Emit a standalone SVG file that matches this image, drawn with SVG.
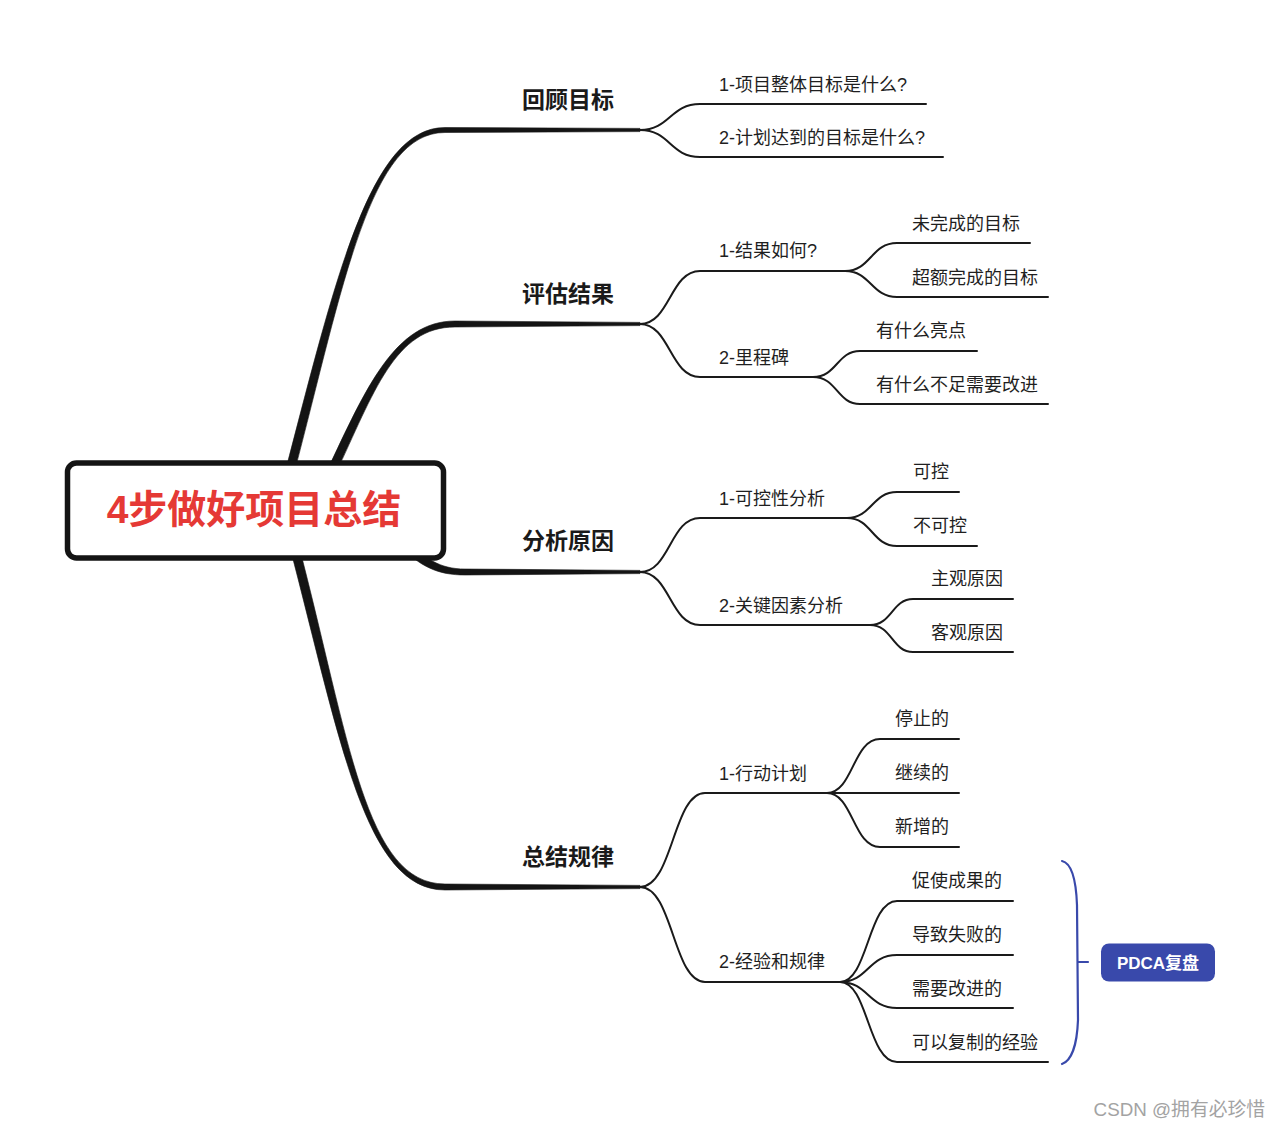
<svg xmlns="http://www.w3.org/2000/svg" width="1280" height="1129" viewBox="0 0 1280 1129">
<style>
.thin{fill:none;stroke:#1a1a1a;stroke-width:2;stroke-linecap:round}
.main{fill:#141414;stroke:#141414;stroke-width:0.6;stroke-linejoin:round}
.t{font-family:"Liberation Sans","Noto Sans CJK SC",sans-serif;font-size:18px;fill:#1f1f1f}
.b{font-family:"Noto Sans CJK SC",sans-serif;font-size:23px;font-weight:bold;fill:#1a1a1a}
.brace{fill:none;stroke:#3949ab;stroke-width:2.2;stroke-linecap:round}
</style>
<rect width="1280" height="1129" fill="#ffffff"/>
<g id="connectors">
  <path class="main" d="M284.65,473.86 C335.65,278.86 370,127.5 445,127.5 L640,128.4 L640,131.6 L445,132.5 C370,132.5 344.35,281.14 293.35,476.14 Z"/>
  <path class="main" d="M326.93,471.09 C365.93,388.09 395,321 455,321 L640,322.4 L640,325.6 L455,327 C395,327 374.07,391.91 335.07,474.91 Z"/>
  <path class="main" d="M403,537 C425,559 440,569 465,569 L640,570.4 L640,573.6 L465,575 C438,575 420,567 397,543 Z"/>
  <path class="main" d="M298.35,543.86 C349.35,738.86 365,884 445,884 L640,885.4 L640,888.6 L445,890 C365,890 340.65,741.14 289.65,546.14 Z"/>
  <path class="thin" d="M640,130 C670,130 670,104 700,104 L926,104 M640,130 C670,130 670,157 700,157 L943,157"/>
  <path class="thin" d="M640,324 C670,324 670,271 700,271 L845,271 M640,324 C670,324 670,377 700,377 L813,377 M845,271 C871,271 871,243 897,243 L1030,243 M845,271 C871,271 871,297 897,297 L1048,297 M813,377 C837,377 837,351 860,351 L977,351 M813,377 C837,377 837,404 860,404 L1048,404"/>
  <path class="thin" d="M640,572 C670,572 670,518 700,518 L847,518 M640,572 C670,572 670,625 700,625 L870,625 M847,518 C872,518 872,492 897,492 L959,492 M847,518 C872,518 872,546 897,546 L977,546 M870,625 C892,625 892,599 913,599 L1013,599 M870,625 C892,625 892,652 913,652 L1013,652"/>
  <path class="thin" d="M640,887 C673,887 673,793 705,793 L827,793 M640,887 C673,887 673,982 705,982 L840,982 M827,793 C853,793 853,739 880,739 L959,739 M827,793 L959,793 M827,793 C853,793 853,847 880,847 L959,847 M840,982 C868,982 868,901 897,901 L1013,901 M840,982 C868,982 868,955 897,955 L1013,955 M840,982 C868,982 868,1008 897,1008 L1013,1008 M840,982 C868,982 868,1062 897,1062 L1048,1062"/>
  <path class="brace" d="M1062,861 C1071,863 1076,878 1077,905 L1078,1020 C1077,1046 1071,1061 1062,1064 M1078,962 L1088,962"/>
</g>
<g id="root">
  <rect x="67.5" y="463" width="376" height="95" rx="9" fill="#ffffff" stroke="#141414" stroke-width="5.5"/>
  <text x="254" y="523" text-anchor="middle" font-family="Liberation Sans,'Noto Sans CJK SC',sans-serif" font-size="39" font-weight="bold" fill="#e53935">4步做好项目总结</text>
</g>
<g id="n-huigu"><text class="b" x="522" y="108">回顾目标</text></g>
<g id="n-huigu-1"><text class="t" x="719" y="91">1-项目整体目标是什么?</text></g>
<g id="n-huigu-2"><text class="t" x="719" y="144">2-计划达到的目标是什么?</text></g>
<g id="n-pinggu"><text class="b" x="522" y="302">评估结果</text></g>
<g id="n-pinggu-1"><text class="t" x="719" y="257">1-结果如何?</text></g>
<g id="n-pinggu-1a"><text class="t" x="912" y="230">未完成的目标</text></g>
<g id="n-pinggu-1b"><text class="t" x="912" y="284">超额完成的目标</text></g>
<g id="n-pinggu-2"><text class="t" x="719" y="364">2-里程碑</text></g>
<g id="n-pinggu-2a"><text class="t" x="876" y="337">有什么亮点</text></g>
<g id="n-pinggu-2b"><text class="t" x="876" y="391">有什么不足需要改进</text></g>
<g id="n-fenxi"><text class="b" x="522" y="549">分析原因</text></g>
<g id="n-fenxi-1"><text class="t" x="719" y="505">1-可控性分析</text></g>
<g id="n-fenxi-1a"><text class="t" x="913" y="478">可控</text></g>
<g id="n-fenxi-1b"><text class="t" x="913" y="532">不可控</text></g>
<g id="n-fenxi-2"><text class="t" x="719" y="612">2-关键因素分析</text></g>
<g id="n-fenxi-2a"><text class="t" x="931" y="585">主观原因</text></g>
<g id="n-fenxi-2b"><text class="t" x="931" y="639">客观原因</text></g>
<g id="n-zongjie"><text class="b" x="522" y="865">总结规律</text></g>
<g id="n-zongjie-1"><text class="t" x="719" y="780">1-行动计划</text></g>
<g id="n-zongjie-1a"><text class="t" x="895" y="725">停止的</text></g>
<g id="n-zongjie-1b"><text class="t" x="895" y="779">继续的</text></g>
<g id="n-zongjie-1c"><text class="t" x="895" y="833">新增的</text></g>
<g id="n-zongjie-2"><text class="t" x="719" y="968">2-经验和规律</text></g>
<g id="n-zongjie-2a"><text class="t" x="912" y="887">促使成果的</text></g>
<g id="n-zongjie-2b"><text class="t" x="912" y="941">导致失败的</text></g>
<g id="n-zongjie-2c"><text class="t" x="912" y="995">需要改进的</text></g>
<g id="n-zongjie-2d"><text class="t" x="912" y="1049">可以复制的经验</text></g>
<g id="n-pdca">
  <rect x="1101" y="943.5" width="114" height="38" rx="8" fill="#3949ab"/>
  <text x="1158" y="969" text-anchor="middle" font-family="Liberation Sans,'Noto Sans CJK SC',sans-serif" font-size="17" font-weight="bold" fill="#ffffff">PDCA复盘</text>
</g>
<g id="watermark"><text x="1265" y="1116" text-anchor="end" font-family="Liberation Sans,'Noto Sans CJK SC',sans-serif" font-size="18.8" fill="#a3a3a3">CSDN @拥有必珍惜</text></g>
</svg>
